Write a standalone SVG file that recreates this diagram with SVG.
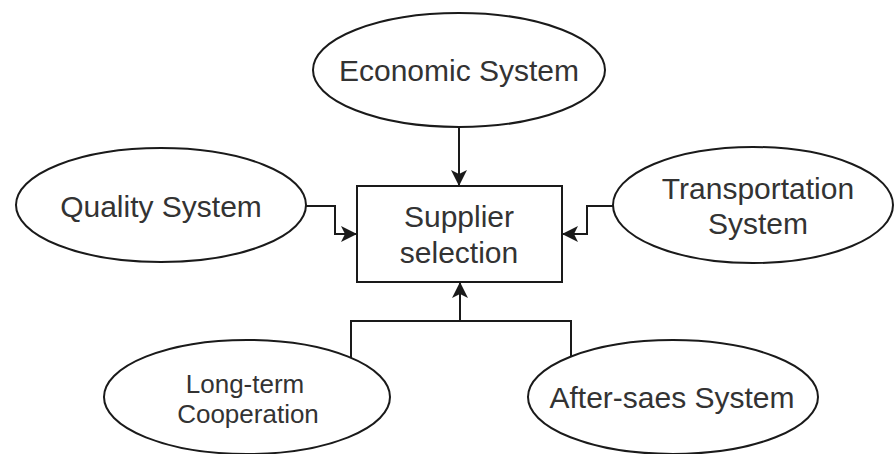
<svg xmlns="http://www.w3.org/2000/svg" width="895" height="454" viewBox="0 0 895 454">
<style>
.shape{fill:#fff;stroke:#1a1a1a;stroke-width:2}
.edge{fill:none;stroke:#1a1a1a;stroke-width:2}
.t{font-family:"Liberation Sans",Arial,sans-serif;font-size:30px;fill:#333;text-anchor:middle}
.s{font-size:26px}
</style>
<defs>
<marker id="arr" markerUnits="userSpaceOnUse" markerWidth="18" markerHeight="18" viewBox="0 0 18 18" refX="16" refY="9" orient="auto">
<path d="M0,1 L16,9 L0,17 L4,9 Z" fill="#1a1a1a"/>
</marker>
</defs>
<rect width="895" height="454" fill="#fff"/>
<g id="connectors">
<path class="edge" d="M459,127 V186" marker-end="url(#arr)"/>
<path class="edge" d="M306,206 H335 V234 H357" marker-end="url(#arr)"/>
<path class="edge" d="M613,206 H587 V234 H562" marker-end="url(#arr)"/>
<path class="edge" d="M351,358 V321 H460 V282" marker-end="url(#arr)"/>
<path class="edge" d="M571,357 V321 H460"/>
</g>
<g id="supplier">
<rect class="shape" x="357" y="186" width="205" height="96"/>
<text class="t" x="459" y="227">Supplier</text>
<text class="t" x="459" y="263">selection</text>
</g>
<g id="economic">
<ellipse class="shape" cx="459" cy="70" rx="146" ry="57"/>
<text class="t" x="459" y="81">Economic System</text>
</g>
<g id="quality">
<ellipse class="shape" cx="161" cy="205" rx="145" ry="57"/>
<text class="t" x="161" y="217">Quality System</text>
</g>
<g id="transportation">
<ellipse class="shape" cx="753" cy="205" rx="140" ry="58"/>
<text class="t" x="758" y="199">Transportation</text>
<text class="t" x="758" y="234">System</text>
</g>
<g id="longterm">
<ellipse class="shape" cx="247" cy="397" rx="143" ry="57"/>
<text class="t s" x="245" y="393">Long-term</text>
<text class="t s" x="248" y="423">Cooperation</text>
</g>
<g id="aftersales">
<ellipse class="shape" cx="673" cy="397" rx="145" ry="57"/>
<text class="t" x="672" y="408">After-saes System</text>
</g>
</svg>
